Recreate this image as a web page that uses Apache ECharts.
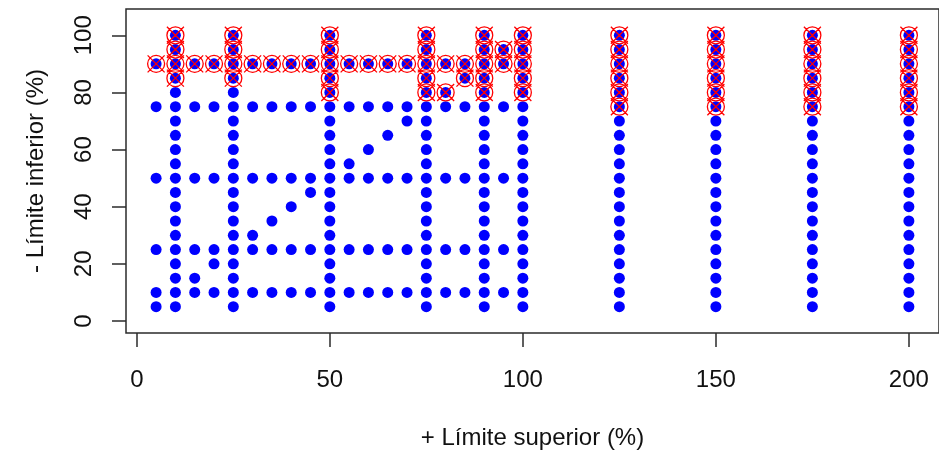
<!DOCTYPE html>
<html>
<head>
<meta charset="utf-8">
<script src="https://cdn.jsdelivr.net/npm/echarts@6/dist/echarts.min.js"></script>
<style>
html,body{margin:0;padding:0;background:#fff;}
#chart{width:939px;height:455px;}
</style>
</head>
<body>
<div id="chart"></div>
<script>
// Tick labels
const xTicks = [0, 50, 100, 150, 200];
const yTicks = [0, 20, 40, 60, 80, 100];

// Lower limit levels (y) and the upper limits (x) tested at each level
const lowerLevels = [5, 10, 15, 20, 25, 30, 35, 40, 45, 50, 55, 60, 65, 70, 75, 80, 85, 90, 95, 100];

const blue_y5   = [5, 10, 25, 50, 75, 90, 100, 125, 150, 175, 200];
const blue_y10  = [5, 10, 15, 20, 25, 30, 35, 40, 45, 50, 55, 60, 65, 70, 75, 80, 85, 90, 95, 100, 125, 150, 175, 200];
const blue_y15  = [10, 15, 25, 50, 75, 90, 100, 125, 150, 175, 200];
const blue_y20  = [10, 20, 25, 50, 75, 90, 100, 125, 150, 175, 200];
const blue_y25  = [5, 10, 15, 20, 25, 30, 35, 40, 45, 50, 55, 60, 65, 70, 75, 80, 85, 90, 95, 100, 125, 150, 175, 200];
const blue_y30  = [10, 25, 30, 50, 75, 90, 100, 125, 150, 175, 200];
const blue_y35  = [10, 25, 35, 50, 75, 90, 100, 125, 150, 175, 200];
const blue_y40  = [10, 25, 40, 50, 75, 90, 100, 125, 150, 175, 200];
const blue_y45  = [10, 25, 45, 50, 75, 90, 100, 125, 150, 175, 200];
const blue_y50  = [5, 10, 15, 20, 25, 30, 35, 40, 45, 50, 55, 60, 65, 70, 75, 80, 85, 90, 95, 100, 125, 150, 175, 200];
const blue_y55  = [10, 25, 50, 55, 75, 90, 100, 125, 150, 175, 200];
const blue_y60  = [10, 25, 50, 60, 75, 90, 100, 125, 150, 175, 200];
const blue_y65  = [10, 25, 50, 65, 75, 90, 100, 125, 150, 175, 200];
const blue_y70  = [10, 25, 50, 70, 75, 90, 100, 125, 150, 175, 200];
const blue_y75  = [5, 10, 15, 20, 25, 30, 35, 40, 45, 50, 55, 60, 65, 70, 75, 80, 85, 90, 95, 100, 125, 150, 175, 200];
const blue_y80  = [10, 25, 50, 75, 80, 90, 100, 125, 150, 175, 200];
const blue_y85  = [10, 25, 50, 75, 85, 90, 100, 125, 150, 175, 200];
const blue_y90  = [5, 10, 15, 20, 25, 30, 35, 40, 45, 50, 55, 60, 65, 70, 75, 80, 85, 90, 95, 100, 125, 150, 175, 200];
const blue_y95  = [10, 25, 50, 75, 90, 95, 100, 125, 150, 175, 200];
const blue_y100 = [10, 25, 50, 75, 90, 100, 125, 150, 175, 200];

const blueRows = [blue_y5, blue_y10, blue_y15, blue_y20, blue_y25, blue_y30, blue_y35, blue_y40, blue_y45, blue_y50,
                  blue_y55, blue_y60, blue_y65, blue_y70, blue_y75, blue_y80, blue_y85, blue_y90, blue_y95, blue_y100];

// Highlighted (red circle-x) points
const redLevels = [75, 80, 85, 90, 95, 100];
const red_y75  = [125, 150, 175, 200];
const red_y80  = [50, 75, 80, 90, 100, 125, 150, 175, 200];
const red_y85  = [10, 25, 50, 75, 85, 90, 100, 125, 150, 175, 200];
const red_y90  = [5, 10, 15, 20, 25, 30, 35, 40, 45, 50, 55, 60, 65, 70, 75, 80, 85, 90, 95, 100, 125, 150, 175, 200];
const red_y95  = [10, 25, 50, 75, 90, 95, 100, 125, 150, 175, 200];
const red_y100 = [10, 25, 50, 75, 90, 100, 125, 150, 175, 200];
const redRows = [red_y75, red_y80, red_y85, red_y90, red_y95, red_y100];

function toPoints(levels, rows) {
  const pts = [];
  levels.forEach((y, i) => rows[i].forEach(x => pts.push([x, y])));
  return pts;
}
const bluePoints = toPoints(lowerLevels, blueRows);
const redPoints = toPoints(redLevels, redRows);

const circleX = 'path://M0,10 A10,10 0 1,1 20,10 A10,10 0 1,1 0,10 Z M0,0 L20,20 M0,20 L20,0';

const FONT = '"Liberation Sans", Arial, sans-serif';
const chart = echarts.init(document.getElementById('chart'), null, {renderer: 'canvas'});
chart.setOption({
  animation: false,
  backgroundColor: '#ffffff',
  grid: {
    left: 126, top: 9, width: 821, height: 325.5,
    show: true, borderColor: '#2b2b2b', borderWidth: 1.5, backgroundColor: 'transparent'
  },
  xAxis: {
    type: 'value', min: -2.8, max: 207.8,
    name: '+ Límite superior (%)', nameLocation: 'middle', nameGap: 93,
    nameTextStyle: {fontFamily: FONT, fontSize: 24, color: '#111'},
    axisLine: {show: false, onZero: false},
    axisTick: {show: true, length: 14, customValues: xTicks, lineStyle: {color: '#2b2b2b', width: 1.5}},
    axisLabel: {customValues: xTicks, margin: 35, fontFamily: FONT, fontSize: 24, color: '#111'},
    splitLine: {show: false}
  },
  yAxis: {
    type: 'value', min: -4.2, max: 109.2,
    name: '- Límite inferior (%)', nameLocation: 'middle', nameGap: 78, nameRotate: 90,
    nameTextStyle: {fontFamily: FONT, fontSize: 24, color: '#111'},
    axisLine: {show: false, onZero: false},
    axisTick: {show: true, length: 14, customValues: yTicks, lineStyle: {color: '#2b2b2b', width: 1.5}},
    axisLabel: {customValues: yTicks, rotate: 90, margin: 30, fontFamily: FONT, fontSize: 24, color: '#111'},
    splitLine: {show: false}
  },
  series: [
    {
      type: 'scatter', data: bluePoints, symbol: 'circle', symbolSize: 11,
      itemStyle: {color: '#0000ff', opacity: 1}, silent: true
    },
    {
      type: 'scatter', data: redPoints, symbol: circleX, symbolSize: 17,
      itemStyle: {color: 'rgba(0,0,0,0)', borderColor: '#ff0000', borderWidth: 1.3, opacity: 1}, silent: true
    }
  ]
});
</script>
</body>
</html>
